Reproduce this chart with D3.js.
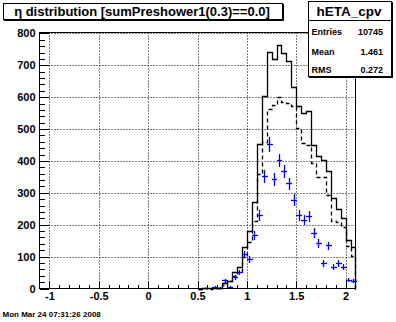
<!DOCTYPE html>
<html><head><meta charset="utf-8">
<script src="https://cdn.jsdelivr.net/npm/d3@7"></script>
<style>
html,body{margin:0;padding:0;background:#fff;}
svg{display:block;}
text{font-family:"Liberation Sans",Arial,Helvetica,sans-serif;font-weight:bold;fill:#000;}
</style>
</head><body>
<svg id="c" width="396" height="322"></svg>
<script>
// ---- data ----
const binLow = [0.55,0.60,0.65,0.70,0.75,0.80,0.85,0.90,0.95,1.00,1.05,1.10,1.15,1.20,1.25,1.30,1.35,1.40,1.45,1.50,1.55,1.60,1.65,1.70,1.75,1.80,1.85,1.90,1.95,2.00,2.05];
const solidCounts  = [2,1,2,3,18,23,52,69,130,181,270,453,605,742,721,765,740,714,632,573,550,556,450,416,403,370,283,249,221,151,130];
const dashedCounts = [1,0,1,2,12,22,38,52,100,147,213,358,460,562,575,601,585,583,573,505,455,450,393,350,350,294,212,210,193,132,103];
const blueCenters = [0.675,0.725,0.775,0.825,0.875,0.925,0.975,1.025,1.075,1.125,1.175,1.225,1.275,1.325,1.375,1.425,1.475,1.525,1.575,1.625,1.675,1.725,1.775,1.825,1.875,1.925,1.975,2.025,2.075];
const blueCounts  = [5,2,26,5,35,52,108,93,167,231,352,453,344,403,368,330,279,230,216,228,175,143,80,135,68,80,68,28,25];
const binWidth = 0.05;
const xTickValues = [-1,-0.5,0,0.5,1,1.5,2];
const xTickLabels = ["-1","-0.5","0","0.5","1","1.5","2"];
const yTickValues = [0,100,200,300,400,500,600,700,800];
const yTickLabels = ["0","100","200","300","400","500","600","700","800"];
const titleText = "\u03b7 distribution [sumPreshower1(0.3)==0.0]";
const statName = "hETA_cpv";
const statLabels = ["Entries","Mean","RMS"];
const statValues = ["10745","1.461","0.272"];
const dateText = "Mon Mar 24 07:31:26 2008";

// ---- layout ----
const L=39.5, R=355.5, T=32.5, B=288.5;
const svg = d3.select("#c");
const x = d3.scaleLinear().domain([-1.1,2.1]).range([L,R]);
const y = d3.scaleLinear().domain([0,803]).range([B,T]);
const xr = v => Math.round(x(v))+0.5;
const yr = v => Math.round(y(v))+0.5;

// grid
const grid = svg.append("g").attr("stroke","#000").attr("stroke-width",1).attr("stroke-dasharray","1,2");
xTickValues.forEach(v=>{
  const px = Math.round(x(v))+0.5;
  grid.append("line").attr("x1",px).attr("x2",px).attr("y1",T).attr("y2",B);
});
yTickValues.filter(v=>v>0).forEach(v=>{
  const py = Math.round(y(v))+0.5;
  grid.append("line").attr("x1",L).attr("x2",R).attr("y1",py).attr("y2",py);
});

// axes
const yMinor = d3.range(20,800,20).filter(v=>v%100!==0);
const xMinor = d3.range(-10,21,1).map(v=>v/10).filter(v=>Math.abs(v*2-Math.round(v*2))>1e-6);
const gy = svg.append("g").attr("transform",`translate(${L},0)`);
gy.call(d3.axisLeft(y).tickValues(yTickValues).tickSize(-9).tickPadding(4).tickFormat((d,i)=>yTickLabels[i]));
gy.append("g").call(d3.axisLeft(y).tickValues(yMinor).tickSize(-5).tickFormat(""));
const gx = svg.append("g").attr("transform",`translate(0,${B})`);
gx.call(d3.axisBottom(x).tickValues(xTickValues).tickSize(-8).tickPadding(4).tickFormat((d,i)=>xTickLabels[i]));
gx.append("g").call(d3.axisBottom(x).tickValues(xMinor).tickSize(-4).tickFormat(""));
svg.selectAll(".domain").remove();
svg.selectAll(".tick line").attr("stroke","#000").attr("shape-rendering","crispEdges");
svg.selectAll(".tick text").style("font-size","11px").style("font-weight","bold").attr("fill","#000");

// histograms (step outlines, pixel-snapped)
function stepPath(counts){
  let p = `M${xr(binLow[0]-binWidth)},${yr(0)}`;
  p += `H${xr(binLow[0])}`;
  binLow.forEach((b,i)=>{
    p += `V${yr(counts[i])}H${xr(b+binWidth)}`;
  });
  p += `V${yr(0)}`;
  return p;
}
svg.append("path").attr("d",stepPath(dashedCounts)).attr("fill","none").attr("stroke","#000").attr("stroke-width",1.3).attr("stroke-dasharray","4,3");
svg.append("path").attr("d",stepPath(solidCounts)).attr("fill","none").attr("stroke","#000").attr("stroke-width",1.3);

// blue error crosses
const cg = svg.append("g").attr("stroke","#0000ff").attr("stroke-width",1.3);
blueCenters.forEach((c,i)=>{
  const v = blueCounts[i], e = Math.sqrt(v);
  cg.append("line").attr("x1",xr(c-binWidth/2)-0.5).attr("x2",xr(c+binWidth/2)+0.5).attr("y1",yr(v)).attr("y2",yr(v));
  cg.append("line").attr("x1",xr(c)).attr("x2",xr(c)).attr("y1",yr(Math.max(0,v-e))+0.5).attr("y2",yr(v+e)-0.5);
});

// frame
svg.append("rect").attr("x",L).attr("y",T).attr("width",R-L).attr("height",B-T)
  .attr("fill","none").attr("stroke","#000").attr("stroke-width",1).attr("shape-rendering","crispEdges");

// title box
svg.append("rect").attr("x",4).attr("y",4).attr("width",280).attr("height",17).attr("fill","#000");
svg.append("rect").attr("x",3.5).attr("y",3.5).attr("width",279).attr("height",16).attr("fill","#fff").attr("stroke","#000");
svg.append("text").attr("x",142).attr("y",16).attr("text-anchor","middle").style("font-size","13px").text(titleText);

// stats box
svg.append("rect").attr("x",309).attr("y",2).attr("width",84).attr("height",76).attr("fill","#000");
svg.append("rect").attr("x",308.5).attr("y",1.5).attr("width",83).attr("height",75).attr("fill","#fff").attr("stroke","#000");
svg.append("line").attr("x1",308.5).attr("x2",391.5).attr("y1",20.5).attr("y2",20.5).attr("stroke","#000");
svg.append("text").attr("x",349).attr("y",16).attr("text-anchor","middle").style("font-size","13.5px").text(statName);
const rowY = [34.5,55,73];
statLabels.forEach((s,i)=>{
  svg.append("text").attr("x",311.5).attr("y",rowY[i]).style("font-size","9px").text(s);
  svg.append("text").attr("x",383).attr("y",rowY[i]).attr("text-anchor","end").style("font-size","9px").text(statValues[i]);
});

// date
svg.append("text").attr("x",2.5).attr("y",317).style("font-size","8px").text(dateText);
</script>
</body></html>
